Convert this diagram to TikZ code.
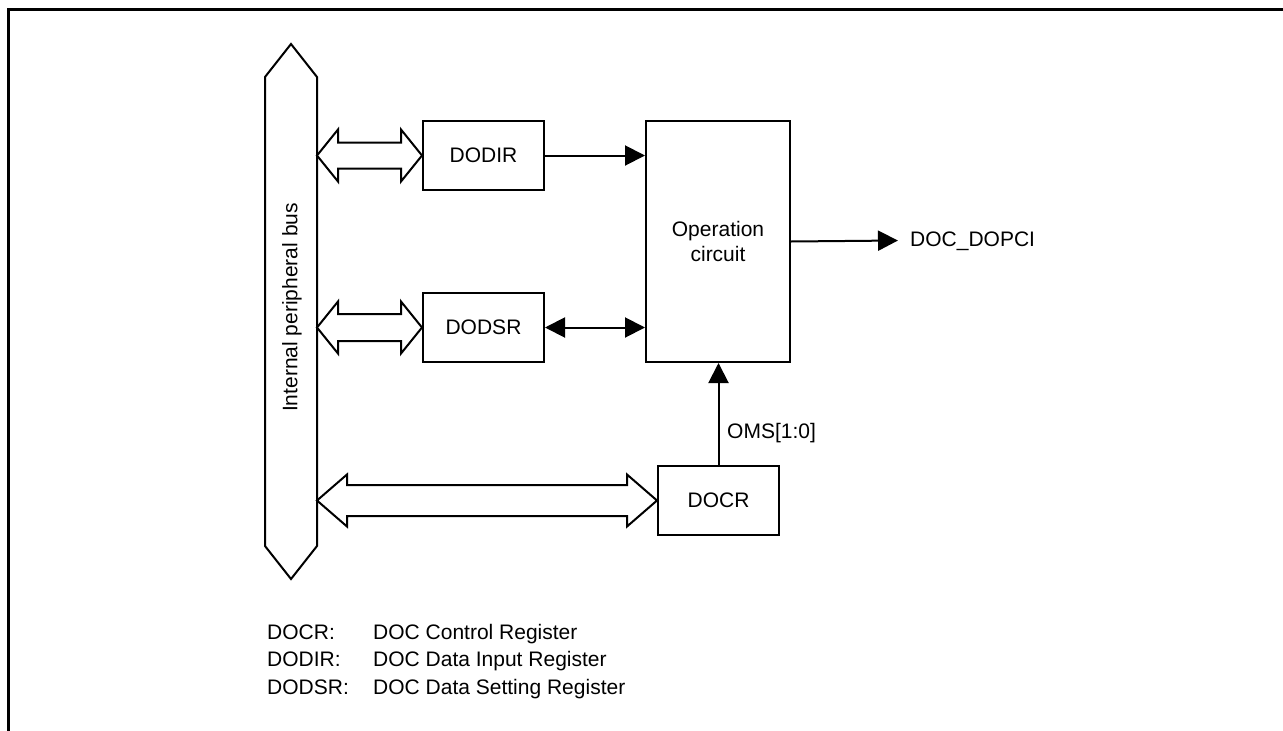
\documentclass[tikz,border=0pt]{standalone}
\usepackage{fontspec}
\setmainfont{Liberation Sans}
\usetikzlibrary{arrows.meta,calc}
\tikzset{
  every node/.style={font=\fontsize{21}{25}\selectfont},
  frame/.style={line width=3pt,line join=miter},
  busshape/.style={draw,line width=2pt,line join=miter,fill=white},
  fat/.style={draw,line width=2pt,line join=miter,fill=white},
  box/.style={draw,line width=2pt,inner sep=0pt,anchor=north west,fill=white},
  sig/.style={line width=2pt,-{Triangle[length=20pt,width=20pt]}},
  bisig/.style={line width=2pt,{Triangle[length=20pt,width=20pt]}-{Triangle[length=20pt,width=20pt]}},
  lbl/.style={inner sep=0pt}
}
\newcommand\busarrow[4]{%
  \draw[fat] let \p1=(#1), \p2=(#2) in
    (\x1,\y2) -- ({\x1+#3pt},{\y2+26pt}) -- ({\x1+#3pt},{\y2+#4pt})
    -- ({\x2-#3pt},{\y2+#4pt}) -- ({\x2-#3pt},{\y2+26pt}) -- (\x2,\y2)
    -- ({\x2-#3pt},{\y2-26pt}) -- ({\x2-#3pt},{\y2-#4pt})
    -- ({\x1+#3pt},{\y2-#4pt}) -- ({\x1+#3pt},{\y2-26pt}) -- cycle;}
\begin{document}
\begin{tikzpicture}[x=1pt,y=-1pt]
\useasboundingbox (0,0) rectangle (1283,731);
\draw[frame] (8.5,731) -- (8.5,9.7) -- (1283,9.7);
% bus
\draw[busshape] (291,44) -- (317,77) -- (317,546) -- (291,579) -- (265,546) -- (265,77) -- cycle;
\node[rotate=90,lbl] (buslabel) at (292,307.5) {Internal peripheral bus};
\coordinate (busA) at (317,154);
\coordinate (busB) at (317,326);
\coordinate (busC) at (317,499);
% boxes
\node[box,minimum width=121pt,minimum height=69pt] (dodir) at (422,120) {DODIR};
\node[box,minimum width=121pt,minimum height=69pt] (dodsr) at (422,292) {DODSR};
\node[box,minimum width=144pt,minimum height=241pt,align=center] (op) at (645,120) {Operation\\circuit};
\node[box,minimum width=121pt,minimum height=69pt] (docr) at (657,465) {DOCR};
% bus arrows
\busarrow{busA}{dodir.west}{21}{13}
\busarrow{busB}{dodsr.west}{21}{13.5}
\busarrow{busC}{docr.west}{30}{15.5}
% signals
\draw[sig] (dodir.east) -- (dodir.east -| op.west);
\draw[bisig] (dodsr.east) -- (dodsr.east -| op.west);
\draw[sig] (docr.north) -- (docr.north |- op.south);
\coordinate (out) at (898,240.5);
\draw[sig] (op.east) -- (out);
\node[lbl,anchor=west] (outlbl) at (910,241) {DOC\_DOPCI};
\node[lbl,anchor=west] (oms) at (727,433) {OMS[1:0]};
% legend
\node[lbl,anchor=base west] (k1) at (267,639) {DOCR:};
\node[lbl,anchor=base west] (v1) at (373,639) {DOC Control Register};
\node[lbl,anchor=base west] (k2) at (267,666.5) {DODIR:};
\node[lbl,anchor=base west] (v2) at (373,666.5) {DOC Data Input Register};
\node[lbl,anchor=base west] (k3) at (267,694) {DODSR:};
\node[lbl,anchor=base west] (v3) at (373,694) {DOC Data Setting Register};
\end{tikzpicture}
\end{document}
